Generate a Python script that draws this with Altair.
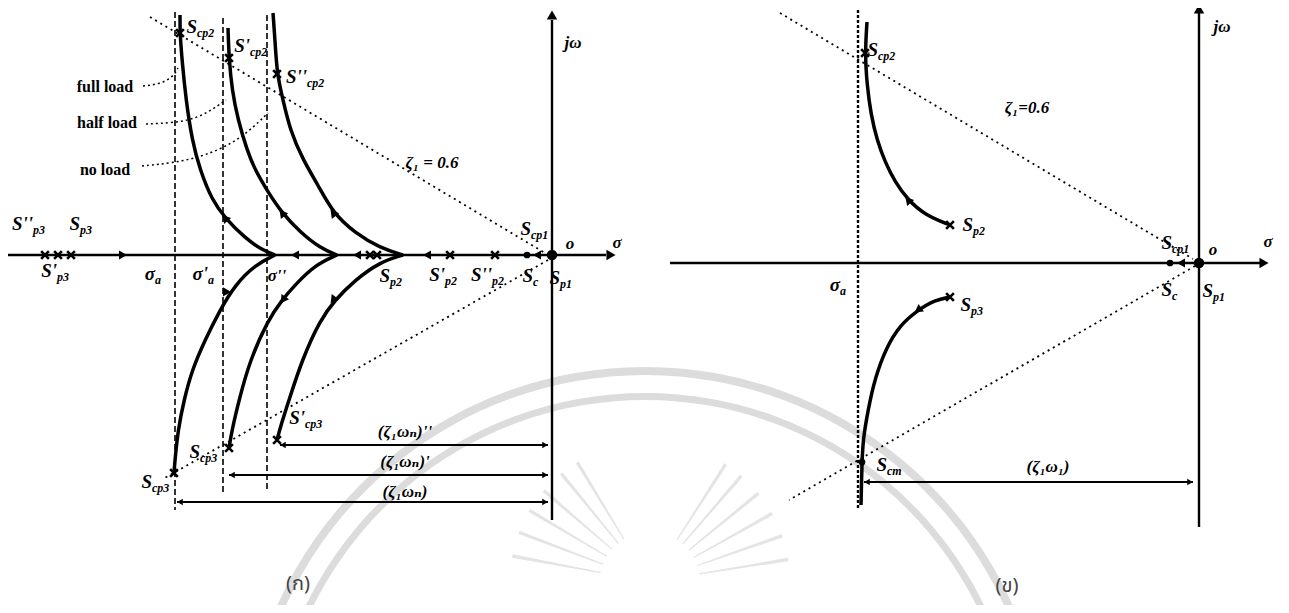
import math
import altair as alt
import pandas as pd

# ---------------- drawing frame (schematic s-plane, drawing units) ----------------
W, H = 1273, 597
X0, Y0 = 8, 8

# ---------- left panel (ก) ----------
L_SIGMA_AXIS_X = [5, 606]
L_SIGMA_AXIS_Y = [255, 255]
L_JW_AXIS_X = [552, 552]
L_JW_AXIS_Y = [20, 520]

FULL_UP_X = [180, 180, 182, 186, 192, 200, 212, 225, 245, 262, 275]
FULL_UP_Y = [15, 33, 60, 100, 140, 170, 200, 218, 238, 250, 255]
HALF_UP_X = [228, 229, 232, 238, 247, 255, 268, 282, 300, 320, 337]
HALF_UP_Y = [28, 58, 90, 120, 150, 170, 192, 213, 232, 248, 255]
NOLD_UP_X = [273, 275, 277, 283, 290, 303, 318, 333, 355, 380, 403]
NOLD_UP_Y = [13, 40, 74, 100, 130, 160, 185, 213, 233, 248, 255]

FULL_LO_X = [275, 255, 235, 220, 205, 192, 184, 178, 175, 174]
FULL_LO_Y = [255, 265, 285, 310, 340, 370, 400, 430, 460, 473]
HALF_LO_X = [337, 315, 295, 282, 268, 250, 239, 232, 229]
HALF_LO_Y = [255, 265, 285, 300, 320, 360, 400, 430, 448]
NOLD_LO_X = [403, 380, 355, 335, 320, 302, 289, 281, 277]
NOLD_LO_Y = [255, 262, 280, 300, 320, 360, 400, 425, 440]

L_ZETA_UP_X = [150, 545]
L_ZETA_UP_Y = [17, 253]
L_ZETA_LO_X = [548, 163]
L_ZETA_LO_Y = [260, 479]

L_DASH = [(175, 12, 510), (223, 18, 492), (267, 15, 492)]

LEAD_FULL_X = [143, 160, 173, 178]
LEAD_FULL_Y = [86, 84, 77, 68]
LEAD_HALF_X = [146, 173, 200, 226]
LEAD_HALF_Y = [124, 123, 118, 100]
LEAD_NOLD_X = [142, 173, 205, 240, 268]
LEAD_NOLD_Y = [166, 163, 156, 140, 113]

L_DIM = [(280, 548, 445), (229, 548, 475), (177, 548, 502)]

L_AXIS_CROSS_X = [45, 58, 71, 370, 377, 450, 495]
L_POLE_X = [180, 229, 277, 174, 229, 277]
L_POLE_Y = [33, 58, 74, 473, 448, 440]
L_DOTS = [(527, 255, 45), (552, 255, 110)]

# arrowheads (x, y, direction in degrees)
L_ARROWS = [(123, 255, 0), (295, 255, 180), (357, 255, 180), (427, 255, 180), (537, 255, 180),
            (225, 218, 229), (282, 213, 231), (333, 213, 232),
            (225, 293, 121), (283, 300, 125), (333, 300, 127)]
L_AXIS_HEADS = [(611, 255, 0), (552, 15, 270)]

# ---------- right panel (ข) ----------
R_SIGMA_AXIS_X = [670, 1260]
R_SIGMA_AXIS_Y = [263, 263]
R_JW_AXIS_X = [1199, 1199]
R_JW_AXIS_Y = [13, 527]

R_UP_X = [867, 865, 867, 871, 877, 885, 895, 908, 925, 950]
R_UP_Y = [22, 53, 85, 115, 140, 162, 182, 200, 215, 225]
R_LO_X = [950, 935, 918, 900, 886, 875, 868, 863, 862, 861]
R_LO_Y = [297, 300, 310, 325, 348, 378, 410, 440, 462, 505]

R_ZETA_UP_X = [780, 1193]
R_ZETA_UP_Y = [13, 259]
R_ZETA_LO_X = [1195, 789]
R_ZETA_LO_Y = [266, 500]

R_DASH = [(858, 10, 510)]
R_DIM = [(864, 1193, 482)]

R_POLE_X = [865, 950, 950]
R_POLE_Y = [53, 225, 297]
R_DOTS = [(862, 462, 45), (1170, 263, 45), (1199, 263, 110)]
R_ARROWS = [(908, 200, 229), (918, 310, 144), (1181, 263, 180)]
R_AXIS_HEADS = [(1264, 263, 0), (1199, 9, 270)]

# ---------- text ----------
# (junction x, y, main text, subscript)
SUB_LABELS = [
    (197, 27, "S", "cp2"), (250, 46, "S'", "cp2"), (307, 77, "S''", "cp2"),
    (531, 229, "S", "cp1"), (33, 224, "S''", "p3"), (80, 224, "S", "p3"),
    (57, 271, "S'", "p3"), (155, 274, "σ", "a"), (208, 274, "σ'", "a"),
    (390, 276, "S", "p2"), (445, 275, "S'", "p2"), (492, 275, "S''", "p2"),
    (533, 276, "S", "c"), (560, 278, "S", "p1"), (305, 418, "S'", "cp3"),
    (200, 452, "S", "cp3"), (152, 482, "S", "cp3"),
    (878, 50, "S", "cp2"), (973, 225, "S", "p2"), (840, 285, "σ", "a"),
    (971, 305, "S", "p3"), (1172, 243, "S", "cp1"), (1172, 290, "S", "c"),
    (1213, 291, "S", "p1"), (887, 465, "S", "cm"),
]
ITALIC_LABELS = [
    (570, 244, "o"), (617, 243, "σ"), (573, 43, "jω"), (277, 276, "σ''"),
    (432, 163, "ζ₁ = 0.6"),
    (1213, 250, "o"), (1268, 242, "σ"), (1222, 27, "jω"), (1027, 108, "ζ₁=0.6"),
]
DIM_LABELS = [(405, 432, "(ζ₁ωₙ)''"), (405, 462, "(ζ₁ωₙ)'"), (405, 492, "(ζ₁ωₙ)"),
              (1048, 467, "(ζ₁ω₁)")]
LOAD_LABELS = [(105, 87, "full load"), (107, 123, "half load"), (105, 170, "no load")]
PANEL_LABELS = [(298, 584, "(ก)"), (1007, 586, "(ข)")]

# ---------- faint watermark (seal) ----------
SEAL_CX, SEAL_CY = 645, 770
SEAL_RINGS = [(395, 403), (370, 377)]
SUN_CX, SUN_CY = 650, 582
RAY_DEG = [-80, -70, -60, -50, -40, -32, 32, 40, 50, 60, 70, 80]

# ---------------- build tables ----------------
xs = alt.Scale(domain=[X0, X0 + W], nice=False, zero=False)
ys = alt.Scale(domain=[Y0, Y0 + H], nice=False, zero=False, reverse=True)
X = lambda f="x": alt.X(f"{f}:Q", scale=xs, axis=None)
Y = lambda f="y": alt.Y(f"{f}:Q", scale=ys, axis=None)


def lines(specs):
    rows = []
    for name, xv, yv in specs:
        for i, (a, b) in enumerate(zip(xv, yv)):
            rows.append({"id": name, "o": i, "x": a, "y": b})
    return pd.DataFrame(rows)


def seg_specs(prefix, segs, vertical):
    out = []
    for i, s in enumerate(segs):
        if vertical:
            out.append((f"{prefix}{i}", [s[0], s[0]], [s[1], s[2]]))
        else:
            out.append((f"{prefix}{i}", [s[0], s[1]], [s[2], s[2]]))
    return out


def line_layer(df, width, dash=None, interp="linear", color="black"):
    kw = dict(strokeWidth=width, color=color, interpolate=interp)
    if dash:
        kw["strokeDash"] = dash
    return alt.Chart(df).mark_line(**kw).encode(
        x=X(), y=Y(), detail="id:N", order="o:Q")


axes_df = lines([("la", L_SIGMA_AXIS_X, L_SIGMA_AXIS_Y), ("lj", L_JW_AXIS_X, L_JW_AXIS_Y),
                 ("ra", R_SIGMA_AXIS_X, R_SIGMA_AXIS_Y), ("rj", R_JW_AXIS_X, R_JW_AXIS_Y)])
locus_df = lines([("fu", FULL_UP_X, FULL_UP_Y), ("hu", HALF_UP_X, HALF_UP_Y),
                  ("nu", NOLD_UP_X, NOLD_UP_Y), ("fl", FULL_LO_X, FULL_LO_Y),
                  ("hl", HALF_LO_X, HALF_LO_Y), ("nl", NOLD_LO_X, NOLD_LO_Y),
                  ("ru", R_UP_X, R_UP_Y), ("rl", R_LO_X, R_LO_Y)])
zeta_df = lines([("z1", L_ZETA_UP_X, L_ZETA_UP_Y), ("z2", L_ZETA_LO_X, L_ZETA_LO_Y),
                 ("z3", R_ZETA_UP_X, R_ZETA_UP_Y), ("z4", R_ZETA_LO_X, R_ZETA_LO_Y)])
ldash_df = lines(seg_specs("ld", L_DASH, True))
rdash_df = lines(seg_specs("rd", R_DASH, True))
lead_df = lines([("f", LEAD_FULL_X, LEAD_FULL_Y), ("h", LEAD_HALF_X, LEAD_HALF_Y),
                 ("n", LEAD_NOLD_X, LEAD_NOLD_Y)])
dim_df = lines(seg_specs("dm", L_DIM + R_DIM, False))

cross_df = pd.DataFrame(
    {"x": L_AXIS_CROSS_X + L_POLE_X + R_POLE_X,
     "y": [255] * len(L_AXIS_CROSS_X) + L_POLE_Y + R_POLE_Y})
dots_df = pd.DataFrame(L_DOTS + R_DOTS, columns=["x", "y", "s"])
arrow_df = pd.DataFrame(L_ARROWS + R_ARROWS, columns=["x", "y", "a"])
head_df = pd.DataFrame(L_AXIS_HEADS + R_AXIS_HEADS, columns=["x", "y", "a"])
dim_heads = []
for (a, b, yy) in L_DIM + R_DIM:
    dim_heads.append((a + 3, yy, 180))
    dim_heads.append((b - 3, yy, 0))
dimhead_df = pd.DataFrame(dim_heads, columns=["x", "y", "a"])

sub_df = pd.DataFrame(SUB_LABELS, columns=["x", "y", "main", "sub"])
sub_df["ys"] = sub_df["y"] + 6
ital_df = pd.DataFrame(ITALIC_LABELS, columns=["x", "y", "t"])
dimlab_df = pd.DataFrame(DIM_LABELS, columns=["x", "y", "t"])
load_df = pd.DataFrame(LOAD_LABELS, columns=["x", "y", "t"])
panel_df = pd.DataFrame(PANEL_LABELS, columns=["x", "y", "t"])

ring_df = pd.DataFrame([{"x": SEAL_CX, "y": SEAL_CY, "r2": r2, "r1": r1,
                         "t1": math.radians(280), "t2": math.radians(440)}
                        for r1, r2 in SEAL_RINGS])
ray_df = pd.DataFrame([{"x": SUN_CX, "y": SUN_CY, "r2": 140, "r1": 50,
                        "t1": math.radians(d % 360), "t2": math.radians(d % 360) + 0.025}
                       for d in RAY_DEG])

GRAY = "#dcdcdc"
SERIF = "'Liberation Serif', 'Times New Roman', 'DejaVu Serif', serif"


def arc_layer(df, color):
    return alt.Chart(df).mark_arc(color=color, clip=True).encode(
        x=X(), y=Y(),
        radius=alt.Radius("r2:Q", scale=None), radius2=alt.Radius2("r1:Q"),
        theta=alt.Theta("t1:Q", scale=None, stack=None), theta2=alt.Theta2("t2:Q"))


layers = [
    arc_layer(ring_df, GRAY),
    arc_layer(ray_df, "#e4e4e4"),
    line_layer(zeta_df, 1.8, dash=[2, 4]),
    line_layer(ldash_df, 1.6, dash=[6, 3]),
    line_layer(rdash_df, 2.4, dash=[3, 2]),
    line_layer(lead_df, 1.5, dash=[2, 3], interp="basis"),
    line_layer(dim_df, 1.8),
    line_layer(axes_df, 2.4),
    line_layer(locus_df, 3.5, interp="basis"),
    alt.Chart(cross_df).mark_point(shape="M-1,-1L1,1M-1,1L1,-1", filled=False,
                                   strokeWidth=2.6, size=60, color="black", opacity=1)
    .encode(x=X(), y=Y()),
    alt.Chart(dots_df).mark_point(shape="circle", filled=True, color="black", opacity=1)
    .encode(x=X(), y=Y(), size=alt.Size("s:Q", scale=None, legend=None)),
    alt.Chart(arrow_df).mark_point(shape="triangle-right", filled=True, size=85,
                                   color="black", opacity=1)
    .encode(x=X(), y=Y(), angle=alt.Angle("a:Q", scale=None)),
    alt.Chart(head_df).mark_point(shape="triangle-right", filled=True, size=110,
                                  color="black", opacity=1)
    .encode(x=X(), y=Y(), angle=alt.Angle("a:Q", scale=None)),
    alt.Chart(dimhead_df).mark_point(shape="triangle-right", filled=True, size=40,
                                     color="black", opacity=1)
    .encode(x=X(), y=Y(), angle=alt.Angle("a:Q", scale=None)),
    alt.Chart(sub_df).mark_text(font=SERIF, fontSize=19, fontStyle="italic",
                                fontWeight="bold", align="right", baseline="middle")
    .encode(x=X(), y=Y(), text="main:N"),
    alt.Chart(sub_df).mark_text(font=SERIF, fontSize=12, fontStyle="italic",
                                fontWeight="bold", align="left", baseline="middle")
    .encode(x=X(), y=Y("ys"), text="sub:N"),
    alt.Chart(ital_df).mark_text(font=SERIF, fontSize=17, fontStyle="italic",
                                 fontWeight="bold", align="center", baseline="middle")
    .encode(x=X(), y=Y(), text="t:N"),
    alt.Chart(dimlab_df).mark_text(font=SERIF, fontSize=17, fontStyle="italic",
                                   fontWeight="bold", align="center", baseline="middle")
    .encode(x=X(), y=Y(), text="t:N"),
    alt.Chart(load_df).mark_text(font=SERIF, fontSize=16, fontWeight="bold",
                                 align="center", baseline="middle")
    .encode(x=X(), y=Y(), text="t:N"),
    alt.Chart(panel_df).mark_text(font="'Noto Sans Thai', 'DejaVu Sans', sans-serif",
                                  fontSize=20, color="#444444",
                                  align="center", baseline="middle")
    .encode(x=X(), y=Y(), text="t:N"),
]

chart = alt.layer(*layers).properties(
    width=W, height=H, padding=0, autosize=alt.AutoSizeParams(type="none"),
    background="white",
).configure_view(stroke=None)

chart.save("out.html", embed_options={"renderer": "svg", "actions": False})
